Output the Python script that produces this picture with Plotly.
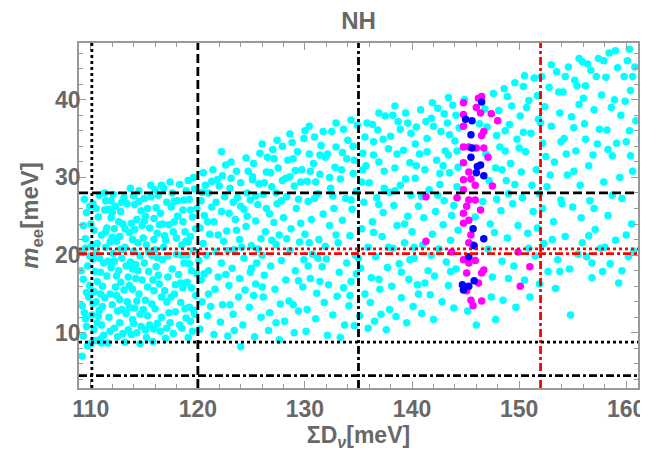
import plotly.graph_objects as go

# ---------------- data ----------------
cyan_pts = [
    # x 109-111
    (109.2,7.0),(109.3,9.6),(109.5,11.8),(109.2,13.5),(109.6,15.2),(109.3,16.9),(109.7,18.6),(109.2,20.4),(109.5,22.1),(109.3,23.8),
    (109.6,25.5),(109.4,27.2),(110.0,8.6),(110.3,10.4),(110.1,12.3),(110.5,14.0),(110.2,19.5),(110.6,21.5),(110.3,23.2),(110.7,24.9),
    (110.2,26.6),(110.8,27.7),(110.9,9.2),(111.0,11.0),(110.8,12.9),(111.1,16.0),(110.9,17.8),(111.2,19.0),(111.0,22.6),(111.3,25.8),
    (111.4,27.0),(110.6,16.6),
    # x 111.5-113.5
    (111.6,8.7),(111.8,10.2),(111.7,12.0),(112.0,13.6),(111.9,18.4),(112.1,20.2),(111.8,21.7),(112.2,23.4),(111.9,24.8),(112.3,26.3),
    (112.1,27.8),(112.5,9.5),(112.7,11.3),(112.4,14.8),(112.8,16.5),(112.6,18.0),(112.9,19.6),(112.7,22.4),(113.0,24.0),(112.8,25.6),
    (113.1,27.4),(113.2,8.8),(113.3,12.5),(113.4,14.0),(113.2,21.0),(113.5,17.2),(113.6,22.9),
    # x 113.5-115.5
    (113.8,9.8),(113.9,11.7),(114.1,13.2),(113.9,15.6),(114.2,18.8),(114.0,20.5),(114.3,24.6),(114.1,26.5),(114.5,28.3),(114.6,8.6),
    (114.7,10.8),(114.5,15.0),(114.8,16.8),(114.6,19.9),(114.9,22.2),(114.7,25.7),(115.0,27.3),(115.2,9.4),(115.3,12.2),(115.1,14.2),
    (115.4,17.9),(115.2,21.3),(115.5,23.5),(115.3,26.0),(115.6,29.0),(115.5,11.0),
    # x 115.5-117.5
    (115.8,8.9),(116.0,13.1),(115.9,15.4),(116.1,18.5),(116.0,20.7),(116.2,22.8),(115.9,24.7),(116.3,27.7),(116.5,10.2),(116.6,12.0),
    (116.4,16.3),(116.7,19.4),(116.5,25.4),(116.8,28.6),(117.0,9.3),(117.1,14.0),(117.2,17.2),(117.0,21.9),(117.3,23.9),(117.1,26.8),
    (117.4,29.4),(117.4,11.3),(116.9,22.5),
    # x 117.5-120
    (117.7,9.9),(117.9,12.7),(117.8,15.0),(118.0,20.1),(117.8,24.3),(118.1,27.0),(118.3,29.1),(118.5,10.6),(118.4,13.9),(118.6,15.8),
    (118.7,19.0),(118.5,21.3),(118.8,23.0),(118.6,25.8),(118.9,28.3),(119.1,9.4),(119.3,11.5),(119.2,13.3),(119.0,16.5),(119.4,18.0),
    (119.3,22.4),(119.5,24.9),(119.2,27.2),(119.6,30.0),(119.7,12.4),(119.8,14.8),(119.6,20.6),(119.9,26.0),
    # extra fill left block
    (109.8,14.6),(109.9,19.9),(110.4,17.9),(110.5,26.0),(111.3,14.5),(111.5,23.5),(111.2,9.7),(112.3,15.9),(112.4,17.3),(112.0,25.5),
    (113.0,20.7),(113.4,26.6),(113.7,19.1),(113.6,13.3),(114.3,10.0),(114.4,21.6),(114.2,17.0),(115.0,19.0),(115.1,25.0),(115.7,20.0),
    (115.8,16.8),(116.2,11.2),(116.9,15.4),(117.6,18.2),(117.5,26.2),(118.2,17.5),(118.0,22.2),(118.9,11.9),(119.0,20.0),(119.8,23.4),
    (110.0,24.0),(111.6,19.2),(112.9,13.0),(114.9,13.0),(116.4,23.9),(118.3,11.0),(109.6,10.8),(113.5,10.4),
    (109.1,18.0),(109.9,26.3),(110.4,9.0),(110.7,12.2),(111.4,21.0),(111.1,13.4),(110.1,21.2),(109.7,8.3),(110.9,15.0),(111.5,17.3),
    (112.2,10.6),(112.6,24.3),(111.9,27.0),(112.8,20.8),(113.3,18.6),(113.1,15.5),(112.5,12.8),(113.8,24.1),(114.0,27.6),(113.9,22.0),
    (114.6,12.4),(114.4,18.0),(115.3,15.9),(114.8,23.8),(115.6,27.5),(115.9,10.5),(116.6,14.6),(116.1,26.1),(116.8,21.0),(117.3,12.6),
    (117.2,19.9),(117.6,28.0),(118.4,16.4),(118.1,25.0),(118.8,13.1),(119.4,15.8),(119.1,21.7),(119.7,28.5),(119.5,10.2),(118.7,27.1),
    (109.4,12.6),(110.3,15.3),(111.8,15.0),(112.2,19.2),(113.6,16.1),(114.1,23.3),(115.4,20.4),(116.3,17.4),(117.7,23.0),(119.3,25.8),
    (110.5,20.3),(111.4,23.0),(112.9,26.8),(114.3,14.1),(115.9,22.0),(117.1,10.6),(118.5,20.0),(119.9,17.6),(116.0,28.4),(113.0,9.9),
    (109.5,20.9),(110.8,19.6),(111.7,25.9),(112.4,21.8),(113.2,23.4),(114.5,26.9),(115.1,10.4),(116.7,24.0),(117.9,16.2),(118.6,24.3),
    (119.2,18.9),(109.9,16.1),(111.0,8.7),(112.7,14.3),(114.0,11.2),(115.7,13.7),(117.5,14.6),(119.6,12.9),(110.6,11.3),(113.9,18.2),
    (116.2,19.7),(118.9,21.8),(112.0,22.3),(115.0,24.4),(117.8,26.9),(111.3,28.0),(113.7,28.6),(116.6,29.0),(119.1,29.6),(110.2,13.8),
    # x 120-122
    (120.2,10.5),(120.4,14.0),(120.3,16.8),(120.1,19.3),(120.5,21.5),(120.2,23.5),(120.6,25.1),(120.3,27.0),(120.7,29.0),(120.5,30.6),
    (120.9,12.2),(121.0,18.0),(121.1,22.7),(121.3,26.2),(121.0,28.0),(121.4,31.0),(121.5,9.8),(121.6,15.6),(121.7,20.4),(121.5,24.3),
    (121.8,29.7),(121.9,17.2),
    # x 122-124
    (122.1,11.4),(122.3,13.6),(122.2,19.0),(122.4,21.8),(122.2,25.6),(122.5,27.5),(122.3,30.2),(122.6,31.6),(122.8,9.6),(122.9,16.1),
    (122.7,23.1),(123.0,28.6),(123.1,32.0),(123.3,12.4),(123.2,18.3),(123.4,20.7),(123.5,24.6),(123.3,26.8),(123.6,30.8),(123.8,14.6),
    (123.9,17.0),(124.0,8.2),(123.9,22.0),(124.0,29.3),
    # x 124-126
    (124.2,11.0),(124.4,15.5),(124.3,19.6),(124.5,23.7),(124.3,25.9),(124.6,28.0),(124.5,32.5),(124.8,13.3),(124.9,17.8),(125.0,21.2),
    (124.9,27.1),(125.1,30.1),(125.2,31.8),(125.3,9.5),(125.4,16.3),(125.5,19.0),(125.4,24.4),(125.6,26.5),(125.7,29.2),(125.8,33.1),
    (125.9,12.0),(125.9,22.1),
    # x 126-128
    (126.1,14.6),(126.2,17.4),(126.0,20.0),(126.3,23.0),(126.1,27.8),(126.4,30.7),(126.5,32.6),(126.6,10.3),(126.7,12.6),(126.8,18.6),
    (126.7,25.3),(126.9,28.8),(127.0,33.6),(127.2,15.6),(127.3,21.4),(127.1,24.2),(127.4,26.6),(127.5,31.2),(127.6,9.1),(127.7,13.7),
    (127.8,19.3),(127.9,29.6),(127.9,34.0),(127.6,22.6),
    # x 128-130
    (128.1,11.5),(128.2,16.8),(128.0,24.8),(128.3,27.5),(128.4,32.2),(128.5,14.1),(128.6,20.6),(128.7,23.4),(128.6,30.1),(128.8,34.5),
    (129.0,10.0),(129.1,18.0),(129.2,26.0),(129.0,28.9),(129.3,33.3),(129.4,12.8),(129.5,21.7),(129.6,24.1),(129.7,31.0),(129.8,15.9),
    (129.9,19.4),(129.9,35.0),
    # x 130-132
    (130.1,10.2),(130.2,13.0),(130.0,22.7),(130.3,26.9),(130.2,29.5),(130.4,33.0),(130.5,17.0),(130.7,20.1),(130.6,24.6),(130.8,31.8),
    (130.9,35.2),(131.0,11.8),(131.1,15.1),(131.2,27.9),(131.3,22.0),(131.4,30.4),(131.5,34.1),(131.6,18.5),(131.7,25.3),(131.8,13.9),
    (131.9,32.6),(131.9,21.1),
    # x 132-134
    (132.1,9.7),(132.2,16.2),(132.0,19.5),(132.3,23.8),(132.4,28.6),(132.5,35.9),(132.6,12.3),(132.7,26.0),(132.8,31.3),(132.9,33.9),
    (133.0,14.7),(133.1,21.6),(133.2,17.8),(133.3,29.8),(133.3,9.4),(133.5,24.5),(133.6,36.2),(133.7,11.0),(133.8,27.3),(133.9,32.4),
    (133.9,19.0),
    # x 134-136
    (134.1,13.5),(134.2,22.5),(134.0,34.8),(134.3,16.6),(134.4,25.9),(134.5,30.5),(134.6,10.9),(134.7,20.0),(134.8,28.2),(134.9,36.7),
    (135.1,12.2),(135.2,18.3),(135.3,23.4),(135.4,33.1),(135.5,26.8),(135.6,15.0),(135.7,31.5),(135.8,37.0),(135.9,21.0),(135.9,10.6),
    # x 136-138
    (136.1,13.9),(136.2,17.1),(136.3,24.3),(136.0,29.3),(136.4,34.6),(136.5,11.5),(136.6,19.8),(136.7,27.4),(136.8,36.1),(136.9,32.0),
    (137.0,15.6),(137.2,22.4),(137.3,25.5),(137.4,30.8),(137.5,37.9),(137.6,10.4),(137.7,18.4),(137.8,33.7),(137.9,13.0),(137.9,28.1),
    # x 138-140
    (138.1,16.0),(138.2,20.9),(138.3,26.4),(138.0,35.3),(138.4,31.2),(138.5,12.1),(138.6,23.8),(138.7,37.2),(138.8,18.9),(138.9,29.0),
    (139.0,14.5),(139.2,33.5),(139.3,21.6),(139.4,38.3),(139.5,11.3),(139.6,25.0),(139.7,16.9),(139.8,31.9),(139.9,35.7),(139.9,27.7),
    # x 140-142
    (140.1,13.4),(140.2,19.6),(140.0,23.0),(140.3,29.9),(140.4,36.5),(140.5,16.2),(140.6,26.3),(140.7,33.0),(140.8,38.7),(140.9,12.5),
    (141.0,21.3),(141.1,24.8),(141.2,31.0),(141.4,35.0),(141.5,18.0),(141.6,28.4),(141.7,14.9),(141.8,37.6),(141.9,22.7),
    # x 142-144.5
    (142.0,11.7),(142.1,17.3),(142.2,25.6),(142.3,32.2),(142.4,38.9),(142.5,20.8),(142.6,29.1),(142.7,35.9),(142.8,14.0),(142.9,23.9),
    (143.0,27.0),(143.1,33.4),(143.2,19.1),(143.3,37.0),(143.4,16.1),(143.5,30.6),(143.6,21.9),(143.7,25.1),(143.8,39.3),(143.9,13.2),
    (144.0,34.7),(144.1,18.2),(144.2,28.8),(144.3,23.2),(144.4,36.4),
    # extra fill middle block
    (120.8,20.0),(121.2,13.4),(122.0,28.9),(122.6,17.5),(121.7,26.8),(123.4,10.3),(123.7,27.4),(124.1,21.0),(124.7,30.8),(125.2,14.8),
    (125.6,20.8),(126.4,26.0),(126.9,21.9),(127.3,11.3),(127.8,27.0),(128.3,22.1),(128.9,32.4),(129.4,16.7),(129.6,29.4),(130.4,21.6),
    (130.9,27.3),(131.2,19.6),(131.7,35.9),(132.3,30.0),(132.9,22.6),(133.5,33.2),(134.3,27.1),(134.8,17.6),(135.3,29.4),(135.6,35.2),
    (136.4,22.9),(136.9,26.5),(137.3,34.9),(137.8,21.0),(138.4,28.3),(138.9,36.2),(139.3,24.0),(139.8,19.4),(140.3,34.3),(140.9,27.5),
    (141.3,37.2),(141.8,20.0),(142.4,27.7),(142.9,31.5),(143.5,35.5),(143.9,26.4),(144.3,31.3),(140.6,15.0),(137.1,12.4),(133.6,15.8),
    (126.8,30.6),(128.6,35.6),(124.0,26.3),(122.9,25.4),(121.3,29.5),(120.4,28.1),(125.1,29.7),(127.1,32.4),(130.0,36.0),(132.1,33.0),
    (134.6,32.2),(136.3,36.8),(138.2,38.0),(139.6,37.0),(142.0,36.6),(143.0,38.2),(144.1,38.0),(131.0,29.4),(129.1,30.9),(123.1,29.9),
    (120.9,24.3),(121.9,22.6),(122.8,20.6),(123.6,23.2),(124.6,25.0),(125.4,27.6),(126.2,29.3),(127.3,28.0),(128.2,29.9),(129.4,27.2),
    (130.5,30.8),(131.4,32.9),(132.6,27.6),(133.4,31.0),(134.5,34.0),(135.4,31.0),(136.4,32.9),(137.4,28.6),(138.6,33.0),(139.4,29.8),
    (140.4,31.5),(141.4,33.3),(142.6,30.5),(143.4,32.9),(144.2,33.4),(121.0,15.0),(123.0,13.6),(126.0,15.9),(128.9,13.6),(131.4,16.6),
    (134.2,14.8),(136.9,16.9),(139.0,17.8),(141.2,16.4),(143.6,17.9),(120.6,17.6),(125.0,18.3),(130.3,18.6),(135.0,19.6),(140.2,21.0),
    (122.2,33.3),(126.0,34.3),(130.4,36.6),(134.3,37.4),(138.4,39.2),(141.9,39.6),(143.4,40.3),(127.4,34.8),(132.9,37.0),(136.9,38.3),
    # x 144.5-148
    (144.9,40.0),(145.2,12.8),(146.0,11.0),(146.8,38.8),(147.0,36.5),(146.9,33.0),(147.2,29.6),(147.3,24.0),(147.1,20.8),(147.5,17.2),
    (147.4,14.6),(146.6,26.9),(147.6,40.8),(147.8,31.2),(147.9,27.2),(147.8,11.7),(146.3,36.9),(147.7,22.9),(147.9,35.4),(145.9,24.9),
    # x 148-150
    (148.1,38.6),(148.2,33.9),(148.3,25.7),(148.4,19.2),(148.5,14.2),(148.6,41.4),(148.7,36.0),(148.8,29.6),(148.9,22.2),(149.0,17.0),
    (149.2,31.8),(149.3,39.2),(149.4,26.6),(149.6,42.2),(149.7,13.3),(149.8,34.9),(149.9,23.8),(149.5,18.6),
    # x 150-152
    (150.1,37.9),(150.2,30.7),(150.3,27.4),(150.4,41.7),(150.5,16.8),(150.6,33.3),(150.8,22.8),(150.9,39.9),(151.0,14.6),(151.1,35.7),
    (151.3,25.6),(151.4,42.8),(151.5,19.9),(151.6,31.0),(151.8,37.5),(151.9,27.9),(151.9,16.3),
    # x 152-154
    (152.1,43.0),(152.2,34.4),(152.3,21.5),(152.4,39.1),(152.6,28.8),(152.7,17.9),(152.8,41.6),(153.0,36.6),(153.2,24.3),(153.3,32.0),
    (153.5,43.6),(153.6,19.4),(153.8,38.3),(153.9,27.1),(153.4,15.7),
    # x 154-156
    (154.1,41.0),(154.2,35.0),(154.3,22.4),(154.5,30.3),(154.6,44.2),(154.7,18.2),(154.8,12.3),(154.9,37.8),(155.0,26.2),(155.2,42.5),
    (155.3,33.4),(155.5,20.1),(155.6,39.4),(155.8,24.8),(155.9,44.9),(155.7,29.0),
    # x 156-158
    (156.1,36.9),(156.2,41.8),(156.3,19.8),(156.5,31.5),(156.6,27.0),(156.7,43.8),(156.8,17.1),(157.0,38.7),(157.1,23.3),(157.3,34.3),
    (157.4,45.3),(157.6,20.9),(157.7,40.6),(157.9,29.4),(157.8,17.9),
    # x 158-161
    (158.1,42.9),(158.2,36.1),(158.3,25.1),(158.4,46.0),(158.5,18.9),(158.7,32.8),(158.9,40.0),(159.0,21.9),(159.2,44.1),(159.3,16.4),
    (159.5,38.0),(159.6,27.3),(159.8,43.0),(160.0,34.6),(160.1,45.0),(160.2,19.8),(160.4,41.2),(160.5,24.0),(160.6,30.8),(160.8,44.2),
    (160.9,37.3),(160.7,20.5),
    # extra fill right block
    (148.4,31.0),(149.1,36.8),(150.0,33.8),(150.7,39.0),(151.2,29.0),(152.0,37.0),(152.9,30.3),(153.7,41.0),(154.4,33.0),(155.1,36.4),
    (156.0,40.2),(156.9,32.9),(157.5,36.2),(158.6,39.0),(159.1,34.4),(159.9,39.8),(160.3,36.0),(160.6,43.0),(157.2,43.0),(155.4,41.8),
    (153.1,22.0),(155.9,21.6),(158.0,21.0),(160.0,22.6),(156.5,22.5),(149.0,27.9),(151.7,23.5),(154.0,26.6),(157.0,26.0),(159.4,30.0),
    (148.9,40.4),(150.5,43.1),(151.7,40.5),(153.0,44.5),(154.3,43.0),(155.6,45.3),(156.4,44.6),(157.9,45.0),(159.0,46.3),(160.3,46.5),
    (148.7,33.4),(150.4,35.8),(152.5,32.7),(153.9,34.6),(156.2,34.9),(158.3,33.6),(160.4,32.8),(149.6,29.1),(152.2,26.0),(155.1,30.8),
    (158.7,27.7),(150.9,20.9),(153.8,17.9),(156.8,19.0),(159.6,18.0),
]

magenta_pts = [
    (146.2,40.2),(146.5,40.4),(144.8,39.6),(146.0,39.0),(144.8,38.1),(147.4,38.2),(146.4,38.3),(148.0,37.3),(144.8,36.6),(146.7,35.9),
    (146.5,35.4),(144.8,33.9),(145.3,33.9),(146.0,33.8),(146.7,33.8),(147.1,32.6),(144.8,31.9),(145.3,30.7),(144.8,29.7),(145.5,29.8),
    (145.9,29.0),(147.5,28.9),(144.8,28.4),(144.2,27.4),(145.3,27.1),(145.9,27.1),(145.1,26.3),(144.8,25.4),(146.4,25.8),(145.3,24.5),
    (144.8,24.1),(145.5,22.6),(145.3,21.6),(145.7,21.3),(143.7,20.4),(149.9,20.4),(144.8,19.4),(145.3,19.0),(145.9,19.3),(146.5,17.7),
    (146.7,18.1),(151.0,18.5),(150.1,16.0),(145.1,17.7),(146.2,16.4),(145.1,15.4),(145.5,14.2),(146.5,14.1),(145.7,13.5),(141.3,27.5),
    (141.3,21.8),
]

blue_pts = [
    (146.5,39.7),(145.0,37.5),(145.6,37.3),(145.5,35.5),(145.6,33.8),(145.5,32.6),(146.4,31.6),(146.1,31.4),(146.0,30.6),(146.7,30.2),
    (145.7,23.4),(146.7,22.1),(145.8,21.2),(145.3,19.8),(144.7,16.2),(144.8,15.5),(145.3,16.0),(145.8,16.7),
]

# reference lines
vlines = [(110.1, "black", "dot"), (120, "black", "dash"), (135, "black", "dashdot"), (152, "red", "dashdot")]
hlines = [(28.0, "black", "dash"), (20.8, "red", "dot"), (20.2, "red", "dashdot"), (8.8, "black", "dot"), (4.5, "black", "dashdot")]

x_range = [108.9, 161.1]
y_range = [2.9, 47.3]
x_ticks = [110, 120, 130, 140, 150, 160]
y_ticks = [10, 20, 30, 40]

# ---------------- figure ----------------
dash_map = {"dot": "3px,3px", "dash": "9px,4px", "dashdot": "8px,3px,3px,3px"}
GRAY = "#686868"
FRAME = "#999999"
FONT = "Liberation Sans, Arial, sans-serif"

fig = go.Figure()
for pts, col in [(cyan_pts, "#00FFFF"), (magenta_pts, "#FF00FF"), (blue_pts, "#0000FF")]:
    fig.add_trace(go.Scatter(
        x=[p[0] for p in pts], y=[p[1] for p in pts], mode="markers",
        marker=dict(color=col, size=7.5, line=dict(width=0)),
        showlegend=False, hoverinfo="skip"))

shapes = []
for xv, col, ds in vlines:
    shapes.append(dict(type="line", xref="x", yref="paper", x0=xv, x1=xv, y0=0, y1=1,
                       line=dict(color=col, width=2.8, dash=dash_map[ds]), layer="above"))
for yv, col, ds in hlines:
    shapes.append(dict(type="line", xref="paper", yref="y", x0=0, x1=1, y0=yv, y1=yv,
                       line=dict(color=col, width=2.8, dash=dash_map[ds]), layer="above"))

axis_common = dict(
    showgrid=False, zeroline=False, showline=True, linecolor=FRAME, linewidth=1.5, mirror="ticks",
    ticks="inside", ticklen=7, tickwidth=1, tickcolor=FRAME, automargin=False,
    tickfont=dict(family=FONT, size=23, color=GRAY),
    minor=dict(ticks="inside", ticklen=4, tickcolor=FRAME, dtick=2),
)

# the page body adds an 8px offset, so margins are set 8px smaller on left/top
fig.update_layout(
    width=648, height=461,
    margin=dict(l=71, r=18, t=35, b=81),
    paper_bgcolor="white", plot_bgcolor="white",
    shapes=shapes,
    title=dict(text="<b>NH</b>", xref="paper", x=0.5, xanchor="center",
               yref="container", y=0.972, yanchor="middle",
               font=dict(family=FONT, size=24, color=GRAY)),
    xaxis=dict(range=x_range, tickvals=x_ticks, ticktext=[f"<b>{v}</b>" for v in x_ticks], **axis_common,
               title=dict(text="<b>ΣD<sub><i>ν</i></sub>[meV]</b>", standoff=6,
                          font=dict(family=FONT, size=23, color=GRAY))),
    yaxis=dict(range=y_range, tickvals=y_ticks, ticktext=[f"<b>{v}</b>" for v in y_ticks], **axis_common,
               ticklabelstandoff=-8,
               title=dict(text="<b><i>m</i><sub>ee</sub>[meV]</b>", standoff=10,
                          font=dict(family=FONT, size=24, color=GRAY))),
)

fig.write_html("out.html")
